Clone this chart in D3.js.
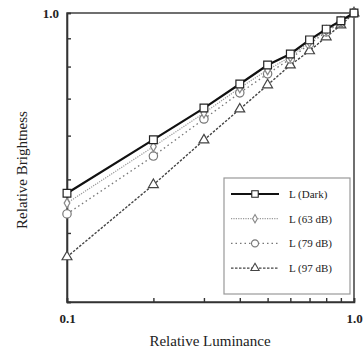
<!DOCTYPE html>
<html>
<head>
<meta charset="utf-8">
<script src="https://cdn.jsdelivr.net/npm/d3@7.9.0/dist/d3.min.js"></script>
<style>
  body { margin: 0; background: #fff; }
  svg text { font-family: 'Liberation Serif', 'DejaVu Serif', serif; fill: #222; }
</style>
</head>
<body>
<div id="chart"></div>
<script>
// luminance steps on the x axis
const luminance = [0.1, 0.2, 0.3, 0.4, 0.5, 0.6, 0.7, 0.8, 0.9, 1.0];

// relative brightness
const dark  = [0.472, 0.590, 0.673, 0.744, 0.805, 0.843, 0.894, 0.935, 0.968, 1.0];
const db63  = [0.453, 0.573, 0.659, 0.732, 0.789, 0.833, 0.886, 0.930, 0.965, 1.0];
const db79  = [0.433, 0.551, 0.643, 0.717, 0.776, 0.826, 0.879, 0.924, 0.961, 1.0];
const db97  = [0.362, 0.489, 0.589, 0.670, 0.741, 0.805, 0.854, 0.905, 0.951, 1.0];

const seriesNames = ['L (Dark)', 'L (63 dB)', 'L (79 dB)', 'L (97 dB)'];

const xTicks = [0.1, 0.2, 0.3, 0.4, 0.5, 0.6, 0.7, 0.8, 0.9, 1.0];
const yTicks = [0.3, 0.4, 0.5, 0.6, 0.7, 0.8, 0.9, 1.0];

const width = 364;
const height = 350;
const margin = { top: 13, right: 10, bottom: 48, left: 67 };

const usableArea = {
  top: margin.top,
  right: width - margin.right,
  bottom: height - margin.bottom,
  left: margin.left,
};

const svg = d3.select('#chart')
  .append('svg')
  .attr('width', width)
  .attr('height', height);

const xScale = d3.scaleLog().domain([0.1, 1]).range([usableArea.left, usableArea.right]);
const yScale = d3.scaleLog().domain([0.3, 1]).range([usableArea.bottom, usableArea.top]);

// frame
svg.append('rect')
  .attr('x', usableArea.left)
  .attr('y', usableArea.top)
  .attr('width', usableArea.right - usableArea.left)
  .attr('height', usableArea.bottom - usableArea.top)
  .attr('fill', 'none')
  .attr('stroke', '#333')
  .attr('stroke-width', 1.4);

const edgeLabel = (d) => (d === 0.1 ? '0.1' : d === 1 ? '1.0' : '');

const xAxis = svg.append('g')
  .attr('transform', `translate(0, ${usableArea.bottom})`)
  .call(d3.axisBottom(xScale).tickValues(xTicks).tickSize(-4).tickPadding(12).tickFormat(edgeLabel));

const yAxis = svg.append('g')
  .attr('transform', `translate(${usableArea.left}, 0)`)
  .call(d3.axisLeft(yScale).tickValues(yTicks).tickSize(-4).tickPadding(8).tickFormat((d) => (d === 1 ? '1.0' : '')));

[xAxis, yAxis].forEach((ax) => {
  ax.select('.domain').attr('stroke', '#333').attr('stroke-width', 1.6);
  ax.selectAll('.tick line').attr('stroke', '#333').attr('stroke-width', 1.4);
  ax.selectAll('.tick text').style('font-size', '13px').style('font-weight', 'bold').attr('fill', '#333');
});

// axis titles
svg.append('text')
  .attr('x', 210)
  .attr('y', 346)
  .attr('text-anchor', 'middle')
  .style('font-size', '15px')
  .text('Relative Luminance');

svg.append('text')
  .attr('transform', 'translate(27, 170) rotate(-90)')
  .attr('text-anchor', 'middle')
  .style('font-size', '15px')
  .text('Relative Brightness');

// series styles
const styles = [
  { values: dark, stroke: '#111', width: 2.2, dash: null, marker: 'square', markerStroke: '#222' },
  { values: db63, stroke: '#999', width: 1.2, dash: '1.2,1.2', marker: 'diamond', markerStroke: '#888' },
  { values: db79, stroke: '#777', width: 1.3, dash: '1.5,3', marker: 'circle', markerStroke: '#777' },
  { values: db97, stroke: '#444', width: 1.4, dash: '2.5,1.5', marker: 'triangle', markerStroke: '#444' },
];

const symbolType = {
  square: d3.symbolSquare,
  diamond: d3.symbolDiamond,
  circle: d3.symbolCircle,
  triangle: d3.symbolTriangle,
};
const symbolSize = { square: 60, diamond: 28, circle: 55, triangle: 42 };

const line = d3.line()
  .x((d) => xScale(d[0]))
  .y((d) => yScale(d[1]));

// draw back to front so the dark line sits on top
styles.slice().reverse().forEach((s) => {
  const pts = luminance.map((l, i) => [l, s.values[i]]);
  svg.append('path')
    .datum(pts)
    .attr('d', line)
    .attr('fill', 'none')
    .attr('stroke', s.stroke)
    .attr('stroke-width', s.width)
    .attr('stroke-dasharray', s.dash);

  svg.append('g')
    .selectAll('path')
    .data(pts)
    .join('path')
    .attr('transform', (d) => `translate(${xScale(d[0])}, ${yScale(d[1])})`)
    .attr('d', d3.symbol(symbolType[s.marker], symbolSize[s.marker]))
    .attr('fill', '#fff')
    .attr('stroke', s.markerStroke)
    .attr('stroke-width', 1.2);
});

// legend
const legend = svg.append('g').attr('transform', 'translate(224, 178)');
legend.append('rect')
  .attr('width', 126)
  .attr('height', 116)
  .attr('fill', '#fff')
  .attr('stroke', '#999')
  .attr('stroke-width', 1.2);

styles.forEach((s, i) => {
  const row = legend.append('g').attr('transform', `translate(0, ${16 + i * 24.7})`);
  row.append('line')
    .attr('x1', 7).attr('x2', 55)
    .attr('stroke', s.stroke)
    .attr('stroke-width', s.width)
    .attr('stroke-dasharray', s.dash);
  row.append('path')
    .attr('transform', 'translate(31, 0)')
    .attr('d', d3.symbol(symbolType[s.marker], symbolSize[s.marker] * 0.7))
    .attr('fill', '#fff')
    .attr('stroke', s.markerStroke)
    .attr('stroke-width', 1.1);
  row.append('text')
    .attr('x', 65)
    .attr('dy', '0.35em')
    .style('font-size', '11px')
    .text(seriesNames[i]);
});
</script>
</body>
</html>
